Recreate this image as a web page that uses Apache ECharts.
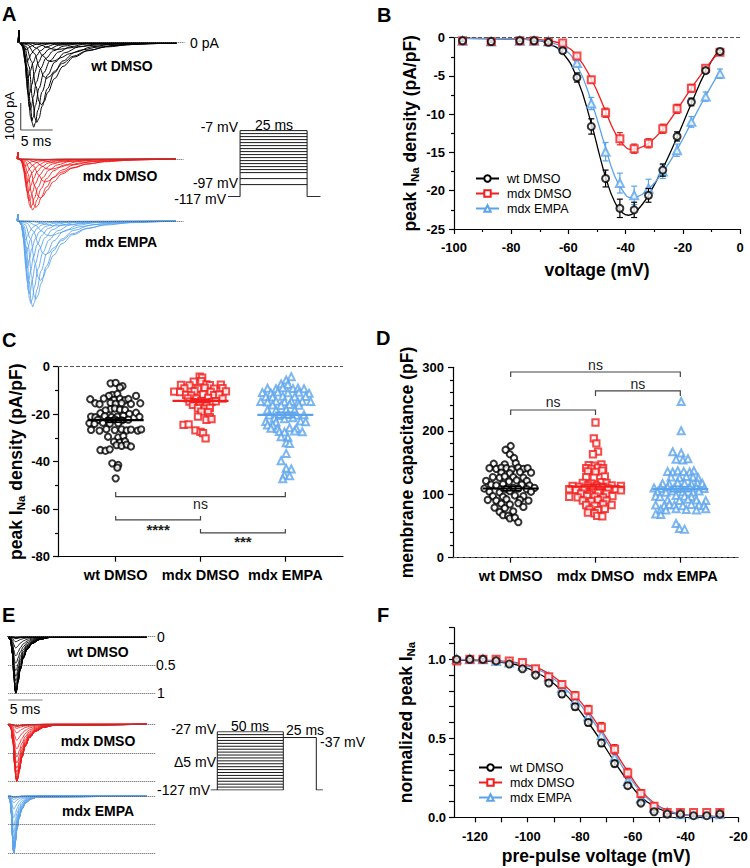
<!DOCTYPE html>
<html><head><meta charset="utf-8">
<script src="https://cdn.jsdelivr.net/npm/echarts@6/dist/echarts.min.js"></script>
<style>html,body{margin:0;padding:0;background:#fff}#c{width:750px;height:868px}</style>
</head><body><div id="c"></div>
<script>
const FONT = "'Liberation Sans', Arial, Helvetica, sans-serif";
const BLACK = '#000000', RED = '#f21d1d', BLUE = '#5ba4ec';
const catNames = ['wt DMSO', 'mdx DMSO', 'mdx EMPA'];

// ---------- Panel A: current traces (I-V protocol) ----------
const aVoltages = [-67,-62,-57,-52,-47,-42,-37,-32,-27,-22,-17,-12,-7];
const aTimeToPeak = [7.0,5.8,4.9,4.2,3.4,2.7,2.2,1.9,1.65,1.45,1.3,1.15,1.05]; // ms
const aPeakWt   = [-60,-250,-700,-1320,-2300,-2950,-3130,-2900,-2500,-1950,-1300,-700,-250]; // pA
const aPeakMdx  = [-40,-120,-380,-850,-1450,-1800,-1890,-1800,-1550,-1250,-900,-550,-250];
const aPeakEmpa = [-50,-180,-550,-1250,-2200,-2900,-3180,-3050,-2700,-2300,-1750,-1200,-700];
// normalised sodium-current waveform (time in units of time-to-peak)
const waveT = [0,0.3,0.55,0.75,0.9,1,1.12,1.3,1.6,2.0,2.5,3.2,4.2,5.5];
const waveV = [0,0.06,0.3,0.7,0.95,1,0.95,0.8,0.58,0.38,0.23,0.12,0.05,0.015];
const protAVolt = [-97,-87,-77,-72,-67,-62,-57,-52,-47,-42,-37,-32,-27,-22,-17,-12,-7];

// ---------- Panel B: I-V ----------
const ivVoltages = [-97,-87,-77,-72,-67,-62,-57,-52,-47,-42,-37,-32,-27,-22,-17,-12,-7];
const ivWt    = [-0.4,-0.5,-0.4,-0.4,-0.6,-1.7,-5.2,-11.6,-18.4,-22.3,-22.5,-20.6,-17.3,-12.9,-8.4,-4.3,-1.8];
const ivWtErr = [0.1,0.1,0.1,0.1,0.15,0.3,0.6,1.0,1.1,1.2,1.0,0.9,0.8,0.6,0.5,0.3,0.2];
const ivMdx   = [-0.4,-0.5,-0.4,-0.4,-0.5,-0.7,-2.4,-5.5,-9.8,-13.2,-14.5,-13.8,-11.9,-9.3,-6.6,-4.0,-1.9];
const ivMdxErr= [0.1,0.1,0.1,0.1,0.1,0.2,0.3,0.4,0.6,0.8,0.6,0.6,0.6,0.6,0.5,0.3,0.2];
const ivEmpa  = [-0.4,-0.5,-0.4,-0.4,-0.5,-0.9,-3.3,-8.6,-14.9,-19.0,-20.6,-19.7,-17.5,-14.7,-11.0,-7.7,-4.7];
const ivEmpaErr=[0.1,0.1,0.1,0.1,0.1,0.2,0.4,0.8,1.2,1.3,1.2,1.2,0.9,0.8,0.7,0.6,0.6];
const ivFitWt  = [[-97,-0.1],[-82,-0.15],[-72,-0.3],[-67,-0.8],[-62,-2.0],[-57,-5.3],[-52,-11.2],[-49,-15.5],[-47,-18.2],[-44,-21.3],[-41,-22.9],[-39,-23.2],[-37,-22.9],[-34,-21.7],[-32,-20.6],[-27,-17.1],[-22,-13.0],[-17,-8.6],[-12,-4.4],[-7,-1.4]];
const ivFitMdx = [[-97,-0.1],[-82,-0.12],[-72,-0.2],[-67,-0.4],[-62,-0.9],[-57,-2.4],[-52,-5.4],[-47,-9.6],[-44,-12.2],[-41,-13.9],[-38,-14.6],[-36,-14.5],[-32,-13.8],[-27,-12.0],[-22,-9.4],[-17,-6.6],[-12,-4.0],[-7,-1.7]];
const ivFitEmpa= [[-97,-0.1],[-82,-0.12],[-72,-0.3],[-67,-0.6],[-62,-1.3],[-57,-3.6],[-52,-8.3],[-47,-14.4],[-44,-17.9],[-41,-20.0],[-38,-20.9],[-36,-20.8],[-32,-19.8],[-27,-17.6],[-22,-14.6],[-17,-11.1],[-12,-7.6],[-7,-4.4]];

// ---------- Panel C: peak INa density scatter ([jitter, value]) ----------
const cWt = [[-0.06,-7.0],[0,-6.8],[0.08,-8.2],[0.05,-8.8],[-0.04,-11.9],[0.02,-11.5],[-0.08,-12.3],[0.24,-12.3],
 [-0.30,-13.7],[-0.14,-13.4],[-0.02,-14.0],[0.05,-13.5],[0.11,-14.1],[0.15,-13.6],
 [-0.24,-15.4],[-0.19,-15.8],[-0.06,-15.2],[0,-15.6],[0.07,-15.3],[0.18,-15.7],[0.29,-15.4],
 [-0.06,-17.9],[-0.01,-17.6],[0.05,-18.1],[-0.12,-18.4],[0.11,-18.2],[-0.18,-19.6],[0.16,-19.9],[0.24,-19.4],
 [-0.29,-21.0],[-0.24,-21.3],[-0.13,-20.8],[-0.05,-21.2],[0.02,-21.0],[0.09,-20.7],[0.28,-21.1],
 [-0.21,-22.4],[-0.09,-22.7],[-0.01,-22.2],[0.07,-22.6],[0.15,-22.3],
 [-0.31,-23.8],[-0.25,-24.1],[-0.15,-23.6],[-0.07,-24.0],[0.03,-23.8],
 [-0.29,-26.6],[-0.19,-26.9],[-0.11,-26.3],[-0.01,-26.7],[0.07,-26.4],[0.13,-26.8],[0.18,-26.5],[0.26,-26.9],[0.30,-26.4],
 [-0.09,-29.5],[0.03,-29.8],[0.09,-29.2],[-0.02,-31.6],[0.05,-31.9],[0.11,-31.4],
 [0.01,-33.0],[0.07,-33.3],[0.13,-32.8],[0.18,-33.6],[-0.18,-35.1],[-0.12,-35.4],[-0.07,-34.8],
 [-0.04,-40.7],[0.03,-41.4],[0.02,-42.5],[0,-47.0]];
const cMdx = [[-0.01,-4.2],[0.02,-4.6],[-0.08,-6.3],[0.01,-6.1],[-0.23,-7.7],[-0.13,-7.9],[0.07,-7.5],[0.11,-7.8],[0.24,-7.6],
 [-0.19,-9.1],[-0.03,-9.3],[0.05,-8.9],[0.16,-9.2],[0.26,-9.0],[-0.31,-10.5],[-0.24,-10.7],[-0.07,-10.3],[0.12,-10.6],[0.30,-10.4],
 [-0.17,-11.9],[-0.11,-12.1],[0.03,-11.7],[0.16,-12.0],[0.22,-11.8],[-0.15,-13.3],[-0.05,-13.5],[0.09,-13.1],[0.26,-13.4],
 [-0.13,-14.7],[-0.07,-14.9],[0.01,-14.5],[0.13,-14.8],[0.18,-14.6],[-0.09,-16.1],[-0.01,-16.3],[0.07,-15.9],
 [-0.03,-17.5],[0.05,-17.7],[0.11,-17.3],[0.01,-18.9],[0.09,-19.1],[-0.03,-21.0],[0.11,-21.2],[0.07,-22.4],[0.13,-22.1],
 [-0.20,-24.5],[-0.14,-24.3],[-0.06,-26.8],[0.0,-27.4],[0.03,-28.0],[0.06,-30.2]];
const cEmpa = [[0.07,-4.2],[0.01,-5.6],[-0.05,-7.3],[0.03,-7.5],
 [-0.21,-9.1],[-0.11,-9.3],[-0.03,-8.9],[0.09,-9.2],[0.15,-9.0],[0.22,-9.3],
 [-0.27,-10.9],[-0.17,-11.1],[-0.09,-10.7],[0.03,-11.0],[0.16,-10.8],[0.28,-11.2],
 [-0.23,-12.6],[-0.15,-12.8],[-0.03,-12.4],[0.11,-12.7],[0.24,-12.5],
 [-0.29,-14.7],[-0.21,-14.9],[-0.11,-14.5],[-0.01,-14.8],[0.07,-14.6],[0.15,-14.9],[0.20,-14.5],[0.30,-14.7],
 [-0.15,-16.1],[-0.05,-16.3],[0.05,-15.9],[0.16,-16.2],[-0.21,-18.2],[-0.11,-18.4],[0.01,-18.0],[0.11,-18.3],
 [-0.19,-20.3],[-0.07,-20.5],[0.03,-20.1],[0.13,-20.4],[0.22,-20.2],[-0.13,-21.7],[-0.01,-21.9],[0.09,-21.5],
 [-0.23,-23.1],[-0.11,-23.3],[0.18,-22.9],[0.24,-23.2],[-0.21,-24.5],[-0.15,-24.7],
 [-0.17,-25.9],[-0.09,-26.1],[0.05,-25.7],[0.13,-26.0],[-0.07,-27.3],[-0.01,-27.5],[0.11,-27.1],[0.20,-27.4],
 [-0.05,-29.5],[0.03,-29.7],[0.01,-32.0],[0.05,-32.3],[0.01,-36.5],[-0.05,-39.6],[0.01,-42.8],[0.07,-43.1],[-0.01,-45.6],[0.05,-45.9],[-0.03,-47.2]];
const cMeans = [-22.5, -14.4, -20.3];
const cSem = [0.9, 0.7, 1.1];
const cBrackets = [[0,2,-54.7,-52.8,-57.6],[0,1,-64.5,-62.9,-68.6],[1,2,-70.0,-68.3,-73.4]]; // from, to, bar, tick end, label
const cBracketLabels = ['ns','****','***'];

// ---------- Panel D: membrane capacitance ----------
const dWt = [[0,176],[-0.06,170],[-0.01,163],[0.04,157],[-0.20,148],[-0.07,147],[0.06,149],
 [-0.25,141],[-0.17,140],[-0.11,142],[-0.05,141],[0.01,139],[0.09,142],[0.15,140],[0.20,141],
 [-0.11,134],[-0.01,133],[0.11,135],[0.24,134],[-0.21,127],[-0.13,126],[-0.07,128],[0.03,127],[0.15,126],
 [-0.29,121],[-0.02,120],[0.07,122],[0.19,121],[-0.23,115],[-0.17,114],[-0.09,116],[0.13,115],[0.22,114],
 [-0.31,109],[-0.05,108],[0.03,110],[0.09,109],[0.19,108],[0.28,110],[-0.25,104],[-0.13,103],[-0.01,105],[0.24,104],
 [-0.21,97],[-0.09,96],[0.05,98],[0.15,97],[-0.27,91],[-0.17,90],[-0.05,92],[0.11,91],[0.21,90],
 [-0.11,85],[-0.01,84],[0.09,86],[-0.19,79],[-0.07,78],[0.15,80],[-0.13,72],[0.03,73],[-0.09,67],[-0.03,66],[-0.01,62],[0.05,63],[0.09,56]];
const dMdx = [[0,213],[-0.02,188],[0.01,180],[0.03,167],[-0.03,163],[-0.08,146],[-0.01,145],[0.07,147],
 [-0.11,141],[-0.05,140],[0.03,142],[0.09,141],[-0.09,136],[0,135],[0.08,137],[-0.11,127],[-0.02,126],[0.11,128],
 [-0.15,118],[-0.05,117],[0.07,119],[0.13,118],[-0.27,113],[-0.19,112],[-0.09,114],[0.01,113],[0.09,112],[0.19,114],[0.30,113],
 [-0.31,108],[-0.23,107],[-0.13,109],[-0.03,108],[0.05,107],[0.15,109],[0.24,108],[0.30,106],
 [-0.17,101],[-0.07,100],[0.03,102],[0.13,101],[-0.31,96],[-0.21,95],[-0.10,97],[-0.01,96],[0.09,95],[0.20,97],
 [-0.15,90],[-0.05,89],[0.03,91],[0.13,90],[-0.11,83],[-0.01,82],[0.09,84],[0.19,83],
 [-0.07,76],[0.03,75],[0.11,77],[-0.09,71],[-0.01,70],[0.02,66],[0.08,65]];
const dEmpa = [[0.01,246],[0.01,200],[-0.09,167],[0.01,165],[-0.05,155],[0.03,154],[0.09,156],
 [-0.15,136],[-0.09,135],[-0.03,137],[0.04,136],[0.11,135],[0.16,137],[-0.11,127],[-0.01,126],[0.07,128],[0.15,127],[0.21,126],
 [-0.21,117],[-0.13,116],[-0.03,118],[0.05,117],[0.13,116],[0.20,118],[0.26,117],
 [-0.31,110],[-0.23,109],[-0.15,111],[-0.07,110],[0.01,109],[0.11,111],[0.19,110],[0.28,109],
 [-0.27,104],[-0.17,103],[-0.09,105],[0.03,104],[0.15,103],[0.22,105],[-0.29,97],[-0.24,96],[-0.05,98],[0.05,97],[0.13,96],
 [-0.15,91],[-0.01,90],[0.09,92],[0.19,91],[0.30,90],[-0.29,83],[-0.19,82],[-0.13,84],[-0.07,83],[0.03,82],[0.13,84],[0.22,83],[0.28,82],
 [-0.23,76],[-0.17,75],[-0.05,77],[0.07,76],[0.19,75],[0.30,77],[-0.29,69],[-0.23,68],[-0.05,54],[-0.01,46],[0.05,45]];
const dMeans = [109, 112, 108];
const dSem = [3.5, 3.8, 4.0];
const dBrackets = [[0,2,292.6,284.7,303.6],[1,2,262.7,254.8,273.7],[0,1,232.7,224.9,245.6]];
const dBracketLabels = ['ns','ns','ns'];

// ---------- Panel F: steady-state inactivation ----------
const fVolt = [-127,-122,-117,-112,-107,-102,-97,-92,-87,-82,-77,-72,-67,-62,-57,-52,-47,-42,-37,-32,-27];
const fWt   = [1.0,1.0,1.0,0.99,0.97,0.94,0.90,0.85,0.78,0.70,0.60,0.47,0.34,0.20,0.09,0.035,0.02,0.02,0.01,0.01,0.02];
const fMdx  = [0.99,1.0,1.0,1.0,0.99,0.98,0.94,0.89,0.84,0.77,0.68,0.57,0.43,0.28,0.15,0.07,0.03,0.03,0.03,0.03,0.03];
const fEmpa = [1.0,1.0,1.0,0.99,0.98,0.96,0.93,0.89,0.82,0.74,0.64,0.52,0.38,0.23,0.12,0.06,0.03,0.02,0.02,0.02,0.02];
const fWtErr  = [0.005,0.005,0.005,0.005,0.008,0.01,0.012,0.015,0.018,0.02,0.02,0.02,0.02,0.015,0.012,0.008,0.005,0.005,0.005,0.005,0.005];
const fMdxErr = [0.01,0.005,0.005,0.005,0.008,0.01,0.015,0.018,0.02,0.025,0.028,0.03,0.03,0.03,0.025,0.02,0.01,0.008,0.008,0.008,0.008];
const fEmpaErr= [0.005,0.005,0.005,0.005,0.008,0.01,0.012,0.015,0.02,0.022,0.025,0.025,0.025,0.022,0.018,0.012,0.008,0.006,0.006,0.006,0.006];
const fFitWt  = [[-127,0.995],[-117,0.99],[-107,0.975],[-102,0.955],[-97,0.92],[-92,0.87],[-87,0.80],[-82,0.71],[-77,0.60],[-72,0.48],[-67,0.35],[-62,0.23],[-57,0.13],[-52,0.07],[-47,0.035],[-42,0.018],[-37,0.01],[-27,0.004]];
const fFitMdx = [[-127,1.0],[-117,0.995],[-107,0.985],[-102,0.97],[-97,0.95],[-92,0.91],[-87,0.85],[-82,0.77],[-77,0.67],[-72,0.55],[-67,0.42],[-62,0.29],[-57,0.17],[-52,0.09],[-47,0.045],[-42,0.02],[-37,0.01],[-27,0.003]];
const fFitEmpa= [[-127,1.0],[-117,0.993],[-107,0.98],[-102,0.965],[-97,0.94],[-92,0.90],[-87,0.83],[-82,0.75],[-77,0.65],[-72,0.53],[-67,0.40],[-62,0.27],[-57,0.16],[-52,0.085],[-47,0.04],[-42,0.02],[-37,0.01],[-27,0.003]];

// ---------- Panel E: inactivation traces ----------
const eTimeToPeak = [1.1, 1.25, 0.8];
const eLevels = [0, 0.5, 1];
const protEVolt = [-127,-122,-117,-112,-107,-102,-97,-92,-87,-82,-77,-72,-67,-62,-57,-52,-47,-42,-37,-32,-27];

// =====================================================================
function merge(a, b) {
  const out = Object.assign({}, a);
  for (const k in b) {
    const bv = b[k];
    if (bv && typeof bv === 'object' && !Array.isArray(bv) && a[k] && typeof a[k] === 'object' && !Array.isArray(a[k])) out[k] = merge(a[k], bv);
    else out[k] = bv;
  }
  return out;
}
const baseAxis = {
  type: 'value',
  axisLine: { show: true, onZero: false, lineStyle: { color: '#000', width: 1.2 } },
  axisTick: { show: true, inside: false, length: 5, lineStyle: { color: '#000', width: 1.2 } },
  minorTick: { show: false, length: 3, lineStyle: { color: '#000', width: 1.2 } },
  splitLine: { show: false }, minorSplitLine: { show: false },
  axisLabel: { show: true, color: '#000', fontFamily: FONT, fontSize: 13, fontWeight: 'bold', margin: 9 },
  nameLocation: 'middle', nameMoveOverlap: false,
  nameTextStyle: { color: '#000', fontFamily: FONT, fontSize: 17.5, fontWeight: 'bold',
    rich: { sub: { fontSize: 11.5, fontWeight: 'bold', fontFamily: FONT, color: '#000', verticalAlign: 'bottom', lineHeight: 22 }, m: { fontSize: 17.5, fontWeight: 'bold', fontFamily: FONT, color: '#000', lineHeight: 22 } } }
};
const hid = (min, max) => ({ type: 'value', show: false, min, max, splitLine: { show: false } });

const grids = [], xAxes = [], yAxes = [], series = [];
function addGrid(g, x, y) {
  const i = grids.length;
  grids.push(Object.assign({ outerBoundsMode: 'none', containLabel: false }, g));
  xAxes.push(Object.assign({ gridIndex: i }, x));
  yAxes.push(Object.assign({ gridIndex: i }, y));
  return i;
}

// --- A grids
const gAk = addGrid({ left: 18.3, top: 26.5, width: 166.4, height: 110.7 }, hid(0, 26), hid(-3500, 600));
const gAr = addGrid({ left: 17.3, top: 142.8, width: 166.4, height: 110.7 }, hid(0, 26), hid(-3500, 600));
const gAb = addGrid({ left: 17.3, top: 204.8, width: 166.4, height: 110.7 }, hid(0, 26), hid(-3500, 600));
const gAp = addGrid({ left: 228, top: 130.6, width: 92.5, height: 66 }, hid(-4.5, 30), hid(-117, -7));
// --- B
const gB = addGrid({ left: 454, top: 37.7, width: 286, height: 191.3 },
  merge(baseAxis, { min: -100, max: 0, interval: 20, minorTick: { show: true, splitNumber: 2 }, axisLabel: { margin: 12 }, name: 'voltage (mV)', nameGap: 32 }),
  merge(baseAxis, { min: -25, max: 0, interval: 5, minorTick: { show: true, splitNumber: 2 }, name: '{m|peak I}{sub|Na}{m| density (pA/pF)}', nameGap: 33 }));
// --- C
const catAxis = merge(baseAxis, { min: -0.68, max: 2.68, axisTick: { customValues: [0, 1, 2] },
  axisLabel: { customValues: [0, 1, 2], fontSize: 14.5, margin: 11, formatter: v => catNames[Math.round(v)] } });
const gC = addGrid({ left: 58, top: 366.7, width: 285, height: 190 }, catAxis,
  merge(baseAxis, { min: -80, max: 0, interval: 20, minorTick: { show: true, splitNumber: 2 }, axisLabel: { margin: 8 }, name: '{m|peak I}{sub|Na}{m| density (pA/pF)}', nameGap: 31 }));
// --- D
const gD = addGrid({ left: 453, top: 367.3, width: 285, height: 190.4 }, catAxis,
  merge(baseAxis, { min: 0, max: 300, interval: 100, minorTick: { show: true, splitNumber: 5 }, axisLabel: { margin: 9 }, name: 'membrane capacitance (pF)', nameGap: 37 }));
// --- E grids
const gEk = addGrid({ left: 8.3, top: 631, width: 146.9, height: 67.9 }, hid(0, 21.6), hid(-1.1, 0.1));
const gEr = addGrid({ left: 8.3, top: 718.6, width: 146.9, height: 68.4 }, hid(0, 21.6), hid(-1.1, 0.1));
const gEb = addGrid({ left: 8.3, top: 790.3, width: 146.9, height: 68.4 }, hid(0, 21.6), hid(-1.1, 0.1));
const gEp = addGrid({ left: 210.7, top: 731.7, width: 112.2, height: 58.3 }, hid(-5, 80), hid(-127, -27));
// --- F
const gF = addGrid({ left: 454, top: 627.7, width: 284.3, height: 189.6 },
  merge(baseAxis, { min: -128, max: -20, axisTick: { customValues: [-120,-110,-100,-90,-80,-70,-60,-50,-40,-30,-20] },
    axisLabel: { customValues: [-120,-100,-80,-60,-40,-20], margin: 13 }, name: 'pre-pulse voltage (mV)', nameGap: 30 }),
  merge(baseAxis, { min: 0, max: 1.2, axisTick: { customValues: [0,0.1,0.2,0.3,0.4,0.5,0.6,0.7,0.8,0.9,1.0,1.1,1.2] },
    axisLabel: { customValues: [0, 0.5, 1.0], margin: 8, formatter: v => v.toFixed(1) }, name: '{m|normalized peak I}{sub|Na}', nameGap: 37 }));

// ---------- trace helpers ----------
function addTraces(gi, peaks, tps, color, lw, delay, tEnd, spike) {
  peaks.forEach((amp, k) => {
    const tp = Array.isArray(tps) ? tps[k] : tps;
    const d = [[0, 0]];
    if (spike) d.push([0.08, spike], [delay, 0]);
    for (let i = 1; i < waveT.length; i++) {
      const t = delay + waveT[i] * tp;
      if (t < tEnd - 0.3) d.push([t, waveV[i] * amp]);
    }
    d.push([tEnd, 0]);
    series.push({ type: 'line', xAxisIndex: gi, yAxisIndex: gi, data: d, smooth: 0.35, smoothMonotone: 'x',
      symbol: 'none', silent: true, z: 3, lineStyle: { color, width: lw } });
  });
}
function refLines(gi, values, color, type, z) {
  series.push({ type: 'line', xAxisIndex: gi, yAxisIndex: gi, data: [], silent: true, z: z || 1,
    markLine: { silent: true, symbol: 'none', label: { show: false }, animation: false,
      lineStyle: { color, type, width: 1 }, data: values.map(v => ({ yAxis: v })) } });
}
function addProtocolSeg(gi, pts) {
  series.push({ type: 'line', xAxisIndex: gi, yAxisIndex: gi, data: pts, symbol: 'none', silent: true,
    lineStyle: { color: '#1a1a1a', width: 1 } });
}

// A traces
refLines(gAk, [0], '#555', 'dotted'); refLines(gAr, [0], '#555', 'dotted'); refLines(gAb, [0], '#555', 'dotted');
addTraces(gAk, aPeakWt, aTimeToPeak, '#000', 1.0, 0.2, 24.75, 450);
addTraces(gAr, aPeakMdx, aTimeToPeak, RED, 0.9, 0.2, 24.75, 250);
addTraces(gAb, aPeakEmpa, aTimeToPeak, BLUE, 0.9, 0.2, 24.75, 250);
// A protocol
protAVolt.forEach(v => addProtocolSeg(gAp, [[0, v], [25, v]]));
addProtocolSeg(gAp, [[-4.5, -117], [0, -117], [0, -7]]);
addProtocolSeg(gAp, [[25, -7], [25, -117], [30, -117]]);

// E traces
refLines(gEk, eLevels.map(v => -v), '#555', 'dotted');
refLines(gEr, eLevels.map(v => -v), '#555', 'dotted');
refLines(gEb, eLevels.map(v => -v), '#555', 'dotted');
addTraces(gEk, fWt.map(v => -v), eTimeToPeak[0], '#000', 0.9, 0, 20.35, 0);
addTraces(gEr, fMdx.map(v => -v), eTimeToPeak[1], RED, 0.9, 0, 20.35, 0);
addTraces(gEb, fEmpa.map(v => -v), eTimeToPeak[2], BLUE, 0.9, 0, 20.35, 0);
// E protocol
protEVolt.forEach(v => addProtocolSeg(gEp, [[0, v], [50, v]]));
addProtocolSeg(gEp, [[-5, -127], [0, -127], [0, -27]]);
addProtocolSeg(gEp, [[50, -127], [50, -27]]);
addProtocolSeg(gEp, [[50, -37], [75, -37], [75, -127], [80, -127]]);

// ---------- error bar / mean / bracket renderers ----------
function errRender(color, cap) {
  return function (params, api) {
    const x = api.value(0), y = api.value(1), e = api.value(2);
    const p1 = api.coord([x, y + e]), p2 = api.coord([x, y - e]);
    const st = { stroke: color, lineWidth: 1.2, fill: null };
    return { type: 'group', children: [
      { type: 'line', shape: { x1: p1[0], y1: p1[1], x2: p2[0], y2: p2[1] }, style: st },
      { type: 'line', shape: { x1: p1[0] - cap, y1: p1[1], x2: p1[0] + cap, y2: p1[1] }, style: st },
      { type: 'line', shape: { x1: p2[0] - cap, y1: p2[1], x2: p2[0] + cap, y2: p2[1] }, style: st } ] };
  };
}
function addXY(gi, name, xs, ys, errs, color, symbol, size, fit, z) {
  series.push({ type: 'line', name, xAxisIndex: gi, yAxisIndex: gi, data: fit, smooth: 0.5, symbol, showSymbol: false,
    silent: true, z: 2, lineStyle: { color, width: 1.3 }, itemStyle: { color } });
  series.push({ type: 'scatter', name: name + ' points', xAxisIndex: gi, yAxisIndex: gi, data: xs.map((x, i) => [x, ys[i]]),
    symbol, symbolSize: size, silent: true, z: z, itemStyle: { color, borderWidth: 1.2 } });
  series.push({ type: 'custom', name: name + ' sem', xAxisIndex: gi, yAxisIndex: gi, data: xs.map((x, i) => [x, ys[i], errs[i]]),
    encode: { x: 0, y: 1 }, renderItem: errRender(color, 3), silent: true, z: z, clip: false });
}
// B
refLines(gB, [0], '#555', 'dashed');
addXY(gB, 'wt DMSO', ivVoltages, ivWt, ivWtErr, BLACK, 'emptyCircle', 7, ivFitWt, 5);
addXY(gB, 'mdx DMSO', ivVoltages, ivMdx, ivMdxErr, RED, 'emptyRect', 7, ivFitMdx, 4);
addXY(gB, 'mdx EMPA', ivVoltages, ivEmpa, ivEmpaErr, BLUE, 'emptyTriangle', 8, ivFitEmpa, 3);
// F
addXY(gF, 'wt DMSO', fVolt, fWt, fWtErr, BLACK, 'emptyCircle', 7, fFitWt, 5);
addXY(gF, 'mdx DMSO', fVolt, fMdx, fMdxErr, RED, 'emptyRect', 7, fFitMdx, 4);
addXY(gF, 'mdx EMPA', fVolt, fEmpa, fEmpaErr, BLUE, 'emptyTriangle', 8, fFitEmpa, 3);

// C / D scatter
const symbols = ['emptyCircle', 'emptyRect', 'emptyTriangle'];
const colors = [BLACK, RED, BLUE];
const sizes = [6.3, 6.3, 7];
function meanRender(color) {
  return function (params, api) {
    const c = api.value(0), m = api.value(1), s = api.value(2);
    const a = api.coord([c - 0.33, m]), b = api.coord([c + 0.33, m]);
    const t = api.coord([c, m + s]), u = api.coord([c, m - s]);
    const capL = api.coord([c - 0.12, m])[0], capR = api.coord([c + 0.12, m])[0];
    const st = { stroke: color, lineWidth: 1.6, fill: null };
    return { type: 'group', children: [
      { type: 'line', shape: { x1: a[0], y1: a[1], x2: b[0], y2: b[1] }, style: { stroke: color, lineWidth: 2.2 } },
      { type: 'line', shape: { x1: t[0], y1: t[1], x2: u[0], y2: u[1] }, style: st },
      { type: 'line', shape: { x1: capL, y1: t[1], x2: capR, y2: t[1] }, style: st },
      { type: 'line', shape: { x1: capL, y1: u[1], x2: capR, y2: u[1] }, style: st } ] };
  };
}
function bracketRender(labels) {
  return function (params, api) {
    const x1 = api.value(0), x2 = api.value(1), y = api.value(2), yt = api.value(3), yl = api.value(4);
    const p1 = api.coord([x1, y]), p2 = api.coord([x2, y]);
    const t1 = api.coord([x1, yt]), t2 = api.coord([x2, yt]);
    const lp = api.coord([(x1 + x2) / 2, yl]);
    const st = { stroke: '#444', lineWidth: 1.2, fill: null };
    const lab = labels[params.dataIndex];
    const isStar = lab.indexOf('*') >= 0;
    return { type: 'group', children: [
      { type: 'polyline', shape: { points: [t1, p1, p2, t2] }, style: st },
      { type: 'text', x: lp[0], y: lp[1], style: { text: lab, fill: '#222', fontFamily: FONT,
        fontSize: isStar ? 15 : 14, fontWeight: isStar ? 'bold' : 'normal', align: 'center', verticalAlign: 'middle' } } ] };
  };
}
function addGroups(gi, groups, means, sems, brackets, labels) {
  refLines(gi, [0], '#555', 'dashed');
  groups.forEach((g, k) => {
    series.push({ type: 'scatter', xAxisIndex: gi, yAxisIndex: gi, data: g.map(p => [k + p[0], p[1]]),
      symbol: symbols[k], symbolSize: sizes[k], silent: true, z: 3, itemStyle: { color: colors[k], borderWidth: 1 } });
    series.push({ type: 'custom', xAxisIndex: gi, yAxisIndex: gi, data: [[k, means[k], sems[k]]], encode: { x: 0, y: 1 },
      renderItem: meanRender(colors[k]), silent: true, z: 4, clip: false });
  });
  series.push({ type: 'custom', xAxisIndex: gi, yAxisIndex: gi, data: brackets, encode: { x: 0, y: 2 },
    renderItem: bracketRender(labels), silent: true, z: 5, clip: false });
}
addGroups(gC, [cWt, cMdx, cEmpa], cMeans, cSem, cBrackets, cBracketLabels);
addGroups(gD, [dWt, dMdx, dEmpa], dMeans, dSem, dBrackets, dBracketLabels);

// ---------- annotations ----------
function txt(text, x, y, o) {
  o = o || {};
  return { type: 'text', x, y, rotation: o.rot || 0, silent: true, z: 10,
    style: { text, fill: o.color || '#000', fontFamily: FONT, fontSize: o.size || 14, fontWeight: o.bold ? 'bold' : 'normal',
      align: o.align || 'left', verticalAlign: 'middle' } };
}
function ln(x1, y1, x2, y2, color) {
  return { type: 'line', silent: true, z: 10, shape: { x1, y1, x2, y2 }, style: { stroke: color || '#333', lineWidth: 1.2 } };
}
const graphics = [
  txt('A', 2, 14, { bold: true, size: 20 }), txt('B', 377, 15, { bold: true, size: 20 }),
  txt('C', 2, 340, { bold: true, size: 20 }), txt('D', 376, 338, { bold: true, size: 20 }),
  txt('E', 2, 615, { bold: true, size: 20 }), txt('F', 377, 615, { bold: true, size: 20 }),
  // A
  txt('0 pA', 190, 43), txt('wt DMSO', 122, 66, { bold: true, align: 'center' }),
  txt('mdx DMSO', 120, 176, { bold: true, align: 'center' }), txt('mdx EMPA', 121, 242, { bold: true, align: 'center' }),
  ln(20.7, 103, 20.7, 130, '#555'), ln(20.7, 130, 52.7, 130, '#555'),
  txt('1000 pA', 9, 116, { rot: Math.PI / 2, align: 'center', size: 13 }), txt('5 ms', 36, 141, { align: 'center' }),
  txt('-7 mV', 238, 127, { align: 'right' }), txt('25 ms', 274, 125, { align: 'center' }),
  txt('-97 mV', 238, 183, { align: 'right' }), txt('-117 mV', 226, 199, { align: 'right' }),
  // E
  txt('0', 157, 637), txt('0.5', 156, 665), txt('1', 157, 693),
  txt('wt DMSO', 98, 652, { bold: true, align: 'center' }), txt('mdx DMSO', 98, 741, { bold: true, align: 'center' }),
  txt('mdx EMPA', 98, 811, { bold: true, align: 'center' }),
  ln(8.3, 700, 42.7, 700, '#888'), txt('5 ms', 25, 708.5, { align: 'center' }),
  txt('-27 mV', 216, 729, { align: 'right' }), txt('50 ms', 250, 725.5, { align: 'center' }),
  txt('25 ms', 305, 730, { align: 'center' }), txt('-37 mV', 320, 742),
  txt('Δ5 mV', 216, 762, { align: 'right' }), txt('-127 mV', 210, 790, { align: 'right' })
];

const legendBase = { orient: 'vertical', itemWidth: 23, itemHeight: 8, itemGap: 2, selectedMode: false,
  data: catNames, textStyle: { fontSize: 12.5, color: '#000', fontFamily: FONT, padding: [0, 0, 0, 3] } };

const chart = echarts.init(document.getElementById('c'), null, { renderer: 'svg' });
chart.setOption({
  animation: false,
  backgroundColor: '#fff',
  textStyle: { fontFamily: FONT },
  grid: grids, xAxis: xAxes, yAxis: yAxes, series,
  legend: [Object.assign({ left: 470, top: 167 }, legendBase), Object.assign({ left: 473, top: 756 }, legendBase)],
  graphic: graphics
});
</script></body></html>
